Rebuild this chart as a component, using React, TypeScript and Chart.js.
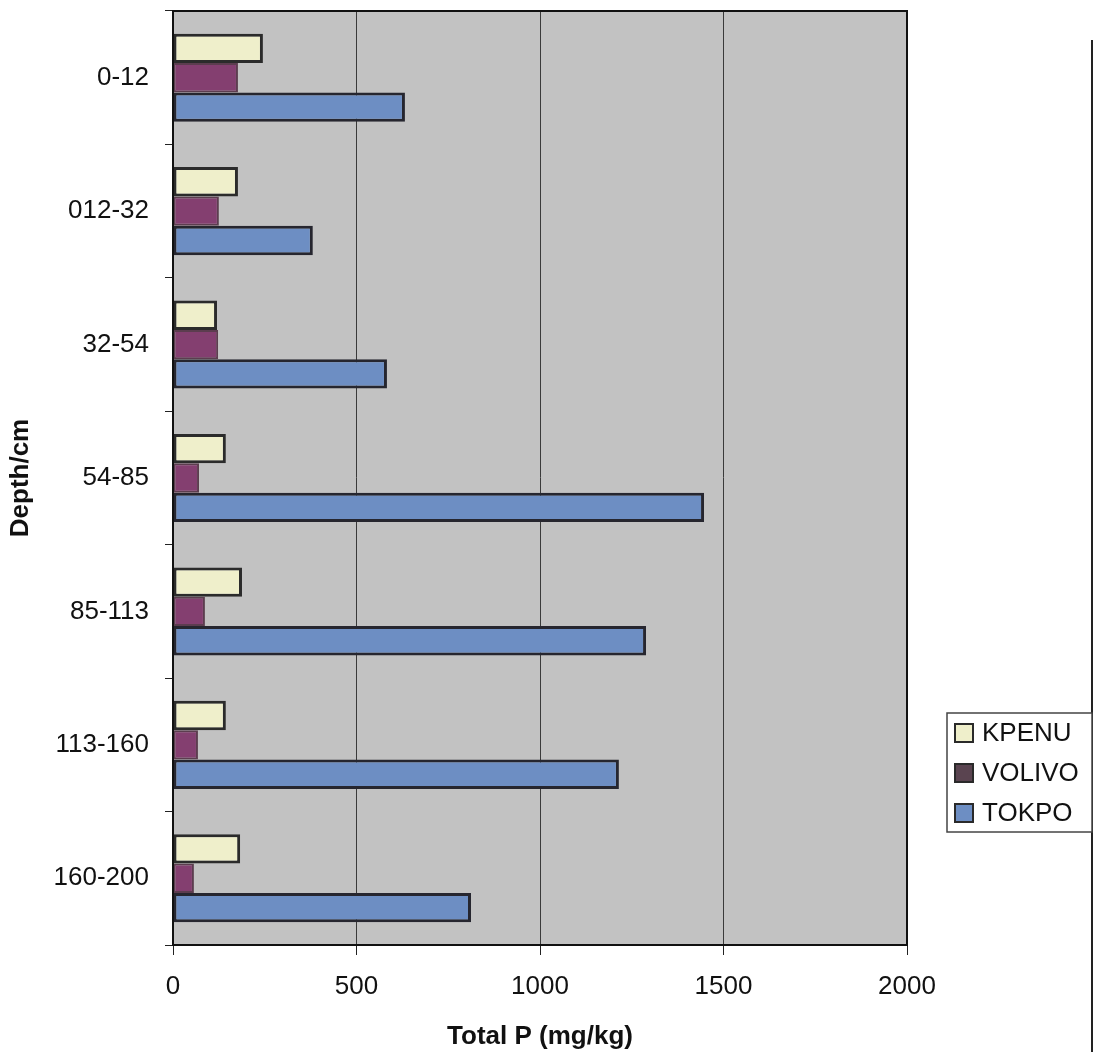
import React, { useEffect, useRef } from "react";
import { Chart, registerables } from "chart.js";

Chart.register(...registerables);

// Soil profile depth classes (cm)
const depthLabels = ["0-12", "012-32", "32-54", "54-85", "85-113", "113-160", "160-200"];
// Total P (mg/kg) per site
const kpenuValues = [245, 177, 120, 144, 188, 144, 183];
const volivoValues = [177, 125, 123, 71, 87, 68, 57];
const tokpoValues = [632, 381, 583, 1447, 1289, 1215, 812];
const seriesNames = ["KPENU", "VOLIVO", "TOKPO"];
const xTickValues = [0, 500, 1000, 1500, 2000];

const FONT = '"Liberation Sans", Arial, Helvetica, sans-serif';

const frame = {
  id: "frame",
  beforeDraw(chart: any) {
    const { ctx, chartArea: a } = chart;
    ctx.save();
    ctx.fillStyle = "#c2c2c2";
    ctx.fillRect(a.left, a.top, a.right - a.left, a.bottom - a.top);
    ctx.restore();
  },
  afterDraw(chart: any) {
    const { ctx, chartArea: a } = chart;
    ctx.save();
    // plot border
    ctx.strokeStyle = "#111";
    ctx.lineWidth = 2;
    ctx.strokeRect(a.left, a.top, a.right - a.left, a.bottom - a.top);

    // outer frame edge on the right
    ctx.beginPath();
    ctx.moveTo(1092, 40);
    ctx.lineTo(1092, 1052);
    ctx.lineWidth = 2;
    ctx.strokeStyle = "#222";
    ctx.stroke();

    // legend
    const bx = 947, by = 713, bw = 145, bh = 119;
    ctx.fillStyle = "#ffffff";
    ctx.fillRect(bx, by, bw, bh);
    ctx.lineWidth = 1.5;
    ctx.strokeStyle = "#444";
    ctx.strokeRect(bx, by, bw, bh);
    ctx.font = `26px ${FONT}`;
    ctx.textBaseline = "middle";
    ctx.textAlign = "left";
    chart.data.datasets.forEach((ds: any, i: number) => {
      const cy = by + 20 + i * 40;
      ctx.fillStyle = ds.legendColor || ds.backgroundColor;
      ctx.fillRect(955, cy - 9, 18, 18);
      ctx.lineWidth = 2;
      ctx.strokeStyle = "#2a2a2a";
      ctx.strokeRect(955, cy - 9, 18, 18);
      ctx.fillStyle = "#111";
      ctx.fillText(ds.label, 982, cy + 1);
    });
    ctx.restore();
  },
};

export default function App() {
  const canvasRef = useRef<HTMLCanvasElement | null>(null);

  useEffect(() => {
    if (!canvasRef.current) return;
    Chart.defaults.font.family = FONT;
    const chart = new Chart(canvasRef.current, {
      type: "bar",
      data: {
        labels: depthLabels,
        datasets: [
          {
            label: seriesNames[0],
            data: kpenuValues,
            backgroundColor: "#efefcb",
            borderColor: "#2b2b2b",
            borderWidth: 3,
            borderSkipped: false,
          },
          {
            label: seriesNames[1],
            data: volivoValues,
            backgroundColor: "#843f70",
            borderColor: "#5c3d4f",
            borderWidth: 2,
            borderSkipped: false,
            legendColor: "#5a4450",
          } as any,
          {
            label: seriesNames[2],
            data: tokpoValues,
            backgroundColor: "#6d8ec3",
            borderColor: "#26262f",
            borderWidth: 3,
            borderSkipped: false,
          },
        ],
      },
      options: {
        indexAxis: "y",
        responsive: false,
        animation: false,
        maintainAspectRatio: false,
        layout: { padding: { top: 11, right: 187, left: 0, bottom: 0 } },
        datasets: { bar: { categoryPercentage: 0.66, barPercentage: 1 } },
        plugins: {
          legend: { display: false },
          tooltip: { enabled: false },
        },
        scales: {
          x: {
            type: "linear",
            min: 0,
            max: 2000,
            afterFit: (s: any) => {
              s.height = 107;
              s.paddingLeft = 0;
              s.paddingRight = 0;
            },
            afterBuildTicks: (s: any) => {
              s.ticks = xTickValues.map((v) => ({ value: v }));
            },
            grid: {
              color: "#3a3a3a",
              lineWidth: 1,
              tickLength: 10,
              tickColor: "#222",
            },
            border: { display: true, color: "#111", width: 2 },
            ticks: {
              color: "#111",
              font: { size: 26, family: FONT },
              padding: 16,
              maxRotation: 0,
              callback: (v: any) => String(v),
            },
            title: {
              display: true,
              text: "Total P (mg/kg)",
              color: "#111",
              font: { size: 26, weight: "bold", family: FONT },
              padding: { top: 0, bottom: 0 },
            },
          },
          y: {
            type: "category",
            afterFit: (s: any) => {
              s.width = 173;
              s.paddingTop = 0;
              s.paddingBottom = 0;
            },
            grid: {
              drawOnChartArea: false,
              drawTicks: true,
              tickLength: 8,
              color: "#222",
              offset: true,
            },
            border: { display: true, color: "#111", width: 2 },
            ticks: {
              color: "#111",
              font: { size: 26, family: FONT },
              padding: 16,
            },
            title: {
              display: true,
              text: "Depth/cm",
              color: "#111",
              font: { size: 26, weight: "bold", family: FONT },
              padding: { top: 5, bottom: 0 },
            },
          },
        },
      } as any,
      plugins: [frame],
    });
    return () => chart.destroy();
  }, []);

  return (
    <div
      style={{
        position: "absolute",
        left: 0,
        top: 0,
        width: 1094,
        height: 1052,
        background: "#ffffff",
      }}
    >
      <canvas ref={canvasRef} width={1094} height={1052} />
    </div>
  );
}
